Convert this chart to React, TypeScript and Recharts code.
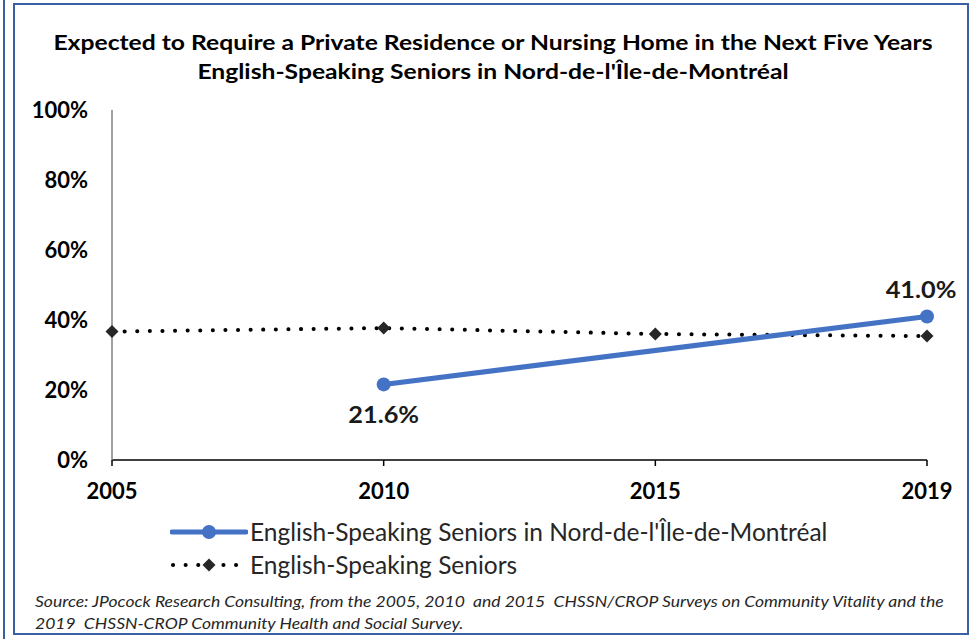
import { CartesianGrid, LabelList, Line, LineChart, XAxis, YAxis } from "recharts";

const YEARS = ["2005", "2010", "2015", "2019"];
const NORD_VALUES: (number | null)[] = [null, 0.216, null, 0.41];
const ALL_VALUES = [0.367, 0.377, 0.36, 0.354];
const Y_TICKS = [0, 0.2, 0.4, 0.6, 0.8, 1];

const TITLE_LINES = [
  "Expected to Require a Private Residence or Nursing Home in the Next Five Years",
  "English-Speaking Seniors in Nord-de-l'Île-de-Montréal",
];
const SERIES_NAMES = ["English-Speaking Seniors in Nord-de-l'Île-de-Montréal", "English-Speaking Seniors"];
const SOURCE_LINES = [
  "Source: JPocock Research Consulting, from the 2005, 2010  and 2015  CHSSN/CROP Surveys on Community Vitality and the",
  "2019  CHSSN-CROP Community Health and Social Survey.",
];

const FONT = "Lato, 'Open Sans', sans-serif";
const BLUE = "#4472c4";
const BORDER = "#3b5fa5";

const data = YEARS.map((year, i) => ({ year, nord: NORD_VALUES[i], all: ALL_VALUES[i] }));

const pct = (v: number) => `${Math.round(v * 100)}%`;

function Diamond(props: any) {
  const { cx, cy } = props;
  if (cx == null || cy == null) return null;
  const s = 6.5;
  return (
    <path
      d={`M${cx},${cy - s} L${cx + s},${cy} L${cx},${cy + s} L${cx - s},${cy} Z`}
      fill="#262626"
    />
  );
}

function NordLabel(props: any) {
  const { x, y, value, index } = props;
  if (value == null) return null;
  const below = index === 1;
  const lx = index === 3 ? x - 6 : x;
  return (
    <text
      x={lx}
      y={below ? y + 39 : y - 18}
      textAnchor="middle"
      fontFamily={FONT}
      fontWeight={700}
      fontSize={23}
      fill="#1a1a1a"
      transform={`translate(${lx},0) scale(1.1,1) translate(${-lx},0)`}
    >
      {(value * 100).toFixed(1)}%
    </text>
  );
}

function LegendRows() {
  return (
    <div style={{ position: "absolute", left: 170, top: 515, fontFamily: FONT, fontSize: 24.5, color: "#262626" }}>
      <div style={{ display: "flex", alignItems: "center", height: 33 }}>
        <svg width={78} height={20} style={{ marginRight: 2 }}>
          <line x1={2} y1={10} x2={76} y2={10} stroke={BLUE} strokeWidth={5} strokeLinecap="round" />
          <circle cx={39} cy={10} r={7} fill={BLUE} />
        </svg>
        <span>{SERIES_NAMES[0]}</span>
      </div>
      <div style={{ display: "flex", alignItems: "center", height: 33 }}>
        <svg width={78} height={20} style={{ marginRight: 2 }}>
          <line
            x1={3}
            y1={10}
            x2={76}
            y2={10}
            stroke="#000"
            strokeWidth={4}
            strokeDasharray="0.1 12.5"
            strokeLinecap="round"
          />
          <path d="M39,3.5 L45.5,10 L39,16.5 L32.5,10 Z" fill="#262626" />
        </svg>
        <span>{SERIES_NAMES[1]}</span>
      </div>
    </div>
  );
}

const tickStyle = { fontFamily: FONT, fontWeight: 700, fontSize: 22, fill: "#000" };

export default function App() {
  return (
    <div
      style={{
        position: "absolute",
        left: 0,
        top: 0,
        width: 977,
        height: 639,
        background: "#fff",
        overflow: "hidden",
      }}
    >
      <div style={{ position: "absolute", left: 3, top: 0, width: 2, height: 639, background: BORDER }} />
      <div
        style={{
          position: "absolute",
          left: 13,
          top: 3,
          width: 956,
          height: 632,
          border: `2px solid ${BORDER}`,
          boxSizing: "border-box",
        }}
      />
      <div
        style={{
          position: "absolute",
          left: 0,
          top: 27,
          width: 986,
          textAlign: "center",
          fontFamily: FONT,
          fontWeight: 700,
          fontSize: 21,
          lineHeight: "29px",
          color: "#000",
          transform: "scaleX(1.175)",
          transformOrigin: "493px 0",
        }}
      >
        {TITLE_LINES.map((l) => (
          <div key={l}>{l}</div>
        ))}
      </div>
      <LineChart
        width={977}
        height={639}
        data={data}
        margin={{ top: 110, right: 50, left: 32, bottom: 149 }}
        style={{ position: "absolute", left: 0, top: 0 }}
      >
        <CartesianGrid stroke="none" />
        <XAxis
          dataKey="year"
          axisLine={{ stroke: "#000", strokeWidth: 1.5 }}
          tickLine={{ stroke: "#000", strokeWidth: 1.5 }}
          tickSize={6}
          tickMargin={17}
          height={30}
          tick={tickStyle}
        />
        <YAxis
          domain={[0, 1]}
          ticks={Y_TICKS}
          tickFormatter={pct}
          width={80}
          axisLine={{ stroke: "#808080", strokeWidth: 1.5 }}
          tickLine={false}
          tickMargin={18}
          tick={tickStyle}
        />
        <Line
          dataKey="all"
          stroke="#000"
          strokeWidth={4}
          strokeDasharray="0.1 12.5"
          strokeLinecap="round"
          dot={<Diamond />}
          activeDot={false}
          isAnimationActive={false}
        />
        <Line
          dataKey="nord"
          stroke={BLUE}
          strokeWidth={5}
          connectNulls
          dot={{ r: 7, fill: BLUE, stroke: BLUE, strokeWidth: 0 }}
          activeDot={false}
          isAnimationActive={false}
        >
          <LabelList dataKey="nord" content={<NordLabel />} />
        </Line>
      </LineChart>
      <LegendRows />
      <div
        style={{
          position: "absolute",
          left: 35,
          top: 590,
          fontFamily: FONT,
          fontStyle: "italic",
          fontSize: 16,
          lineHeight: "22px",
          color: "#262626",
          transform: "scaleX(1.095)",
          transformOrigin: "0 0",
        }}
      >
        {SOURCE_LINES.map((l) => (
          <div key={l} style={{ whiteSpace: "pre" }}>
            {l}
          </div>
        ))}
      </div>
    </div>
  );
}
